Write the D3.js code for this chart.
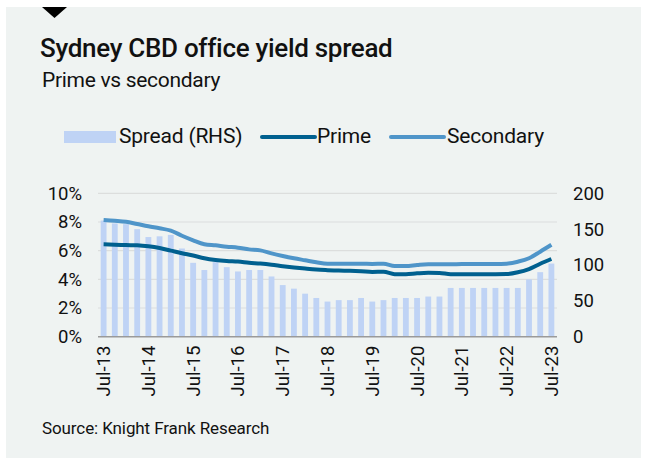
<!DOCTYPE html>
<html>
<head>
<meta charset="utf-8">
<script src="https://cdn.jsdelivr.net/npm/d3@7"></script>
<style>
  html, body { margin: 0; padding: 0; background: #ffffff; }
  svg { display: block; }
  text { font-family: Roboto, "Liberation Sans", Arial, sans-serif; fill: #111; }
</style>
</head>
<body>
<svg id="chart" width="646" height="463"></svg>
<script>
// Quarterly observations, Jul-13 to Jul-23
const quarters = [
  "Jul-13","Oct-13","Jan-14","Apr-14","Jul-14","Oct-14","Jan-15","Apr-15",
  "Jul-15","Oct-15","Jan-16","Apr-16","Jul-16","Oct-16","Jan-17","Apr-17",
  "Jul-17","Oct-17","Jan-18","Apr-18","Jul-18","Oct-18","Jan-19","Apr-19",
  "Jul-19","Oct-19","Jan-20","Apr-20","Jul-20","Oct-20","Jan-21","Apr-21",
  "Jul-21","Oct-21","Jan-22","Apr-22","Jul-22","Oct-22","Jan-23","Apr-23",
  "Jul-23"
];

// Prime yield (%)
const prime = [
  6.44, 6.42, 6.39, 6.37, 6.30, 6.18, 6.00, 5.82,
  5.66, 5.47, 5.35, 5.28, 5.24, 5.16, 5.10, 5.02,
  4.92, 4.83, 4.75, 4.68, 4.64, 4.61, 4.60, 4.57,
  4.52, 4.53, 4.36, 4.36, 4.42, 4.46, 4.45, 4.36,
  4.36, 4.36, 4.36, 4.36, 4.37, 4.49, 4.72, 5.09,
  5.42
];

// Secondary yield (%)
const secondary = [
  8.14, 8.09, 8.02, 7.86, 7.70, 7.56, 7.40, 7.04,
  6.72, 6.45, 6.37, 6.28, 6.21, 6.09, 6.02, 5.81,
  5.63, 5.47, 5.33, 5.19, 5.09, 5.09, 5.09, 5.09,
  5.07, 5.09, 4.93, 4.93, 5.00, 5.05, 5.05, 5.05,
  5.07, 5.07, 5.07, 5.07, 5.09, 5.23, 5.47, 5.93,
  6.41
];

// Prime–secondary spread (bps, right-hand axis)
const spread = [
  162, 158, 157, 150, 139, 140, 142, 123,
  103, 93, 104, 97, 91, 93, 93, 84,
  72, 67, 60, 54, 49, 51, 51, 54,
  49, 51, 54, 54, 54, 56, 56, 68,
  68, 68, 68, 68, 68, 68, 80, 90,
  102
];

const leftTicks = [0, 2, 4, 6, 8, 10];
const rightTicks = [0, 50, 100, 150, 200];
const xTickLabels = ["Jul-13","Jul-14","Jul-15","Jul-16","Jul-17","Jul-18",
                     "Jul-19","Jul-20","Jul-21","Jul-22","Jul-23"];

const colors = {
  bg: "#eff3f2",
  bar: "#bfd3f5",
  prime: "#00608f",
  secondary: "#4f95c9",
  grid: "#dcdedd",
  axis: "#9a9a9a"
};

const FONT = "Roboto, 'Liberation Sans', Arial, sans-serif";
const svg = d3.select("#chart");

// Panel background and marker
svg.append("rect")
  .attr("x", 6).attr("y", 7).attr("width", 635).attr("height", 451)
  .attr("fill", colors.bg);
svg.append("path")
  .attr("d", "M42,7 L67,7 L54.5,18 Z")
  .attr("fill", "#000");

// Titles
svg.append("text")
  .attr("x", 40).attr("y", 57)
  .style("font-size", "26px").style("font-weight", "500")
  .style("letter-spacing", "-0.3px")
  .text("Sydney CBD office yield spread");
svg.append("text")
  .attr("x", 42).attr("y", 87)
  .style("font-size", "21px")
  .style("letter-spacing", "-0.3px")
  .text("Prime vs secondary");

// Plot area
const plot = { left: 98, right: 557, top: 193.3, bottom: 336.7 };

const x = d3.scaleBand()
  .domain(quarters)
  .range([plot.left, plot.right])
  .paddingInner(0.48)
  .paddingOuter(0.24);

const yLeft = d3.scaleLinear().domain([0, 10]).range([plot.bottom, plot.top]);
const yRight = d3.scaleLinear().domain([0, 200]).range([plot.bottom, plot.top]);

// Gridlines
svg.append("g")
  .selectAll("line")
  .data(leftTicks.filter(d => d > 0))
  .join("line")
  .attr("x1", plot.left).attr("x2", plot.right)
  .attr("y1", d => yLeft(d)).attr("y2", d => yLeft(d))
  .attr("stroke", colors.grid).attr("stroke-width", 1.2);

// Spread bars
svg.append("g")
  .selectAll("rect")
  .data(spread)
  .join("rect")
  .attr("x", (d, i) => x(quarters[i]))
  .attr("width", x.bandwidth())
  .attr("y", d => yRight(d))
  .attr("height", d => yRight(0) - yRight(d))
  .attr("fill", colors.bar);

// Baseline
svg.append("line")
  .attr("x1", plot.left).attr("x2", plot.right)
  .attr("y1", plot.bottom).attr("y2", plot.bottom)
  .attr("stroke", colors.axis).attr("stroke-width", 1.5);

// Yield lines
const cx = i => x(quarters[i]) + x.bandwidth() / 2;
const lineL = d3.line()
  .x((d, i) => cx(i))
  .y(d => yLeft(d))
  .curve(d3.curveMonotoneX);

svg.append("path")
  .datum(secondary)
  .attr("d", lineL)
  .attr("fill", "none")
  .attr("stroke", colors.secondary)
  .attr("stroke-width", 4)
  .attr("stroke-linejoin", "round");

svg.append("path")
  .datum(prime)
  .attr("d", lineL)
  .attr("fill", "none")
  .attr("stroke", colors.prime)
  .attr("stroke-width", 4)
  .attr("stroke-linejoin", "round");

// Left axis labels
const leftAxis = d3.axisLeft(yLeft)
  .tickValues(leftTicks)
  .tickFormat(d => d + "%")
  .tickSize(0)
  .tickPadding(0);
const gL = svg.append("g")
  .attr("transform", `translate(82,0)`)
  .call(leftAxis);
gL.select(".domain").remove();
gL.selectAll("text")
  .style("font-size", "18.5px")
  .style("font-family", FONT)
  .attr("fill", "#111");

// Right axis labels
const rightAxis = d3.axisRight(yRight)
  .tickValues(rightTicks)
  .tickSize(0)
  .tickPadding(0);
const gR = svg.append("g")
  .attr("transform", `translate(573,0)`)
  .call(rightAxis);
gR.select(".domain").remove();
gR.selectAll("text")
  .style("font-size", "18.5px")
  .style("font-family", FONT)
  .attr("fill", "#111");

// Bottom axis labels (rotated)
const bottomAxis = d3.axisBottom(x)
  .tickValues(xTickLabels)
  .tickSize(0)
  .tickPadding(0);
const gB = svg.append("g")
  .attr("transform", `translate(0,${plot.bottom})`)
  .call(bottomAxis);
gB.select(".domain").remove();
gB.selectAll("text")
  .attr("transform", "rotate(-90)")
  .attr("x", -9)
  .attr("y", 0)
  .attr("dy", "0.35em")
  .style("text-anchor", "end")
  .style("font-size", "18.5px")
  .style("font-family", FONT)
  .attr("fill", "#111");

// Legend
const legend = svg.append("g").style("font-size", "21px");
legend.append("rect")
  .attr("x", 64).attr("y", 131).attr("width", 52).attr("height", 12)
  .attr("fill", colors.bar);
legend.append("text")
  .attr("x", 119).attr("y", 143)
  .style("letter-spacing", "-0.2px")
  .text("Spread (RHS)");
legend.append("line")
  .attr("x1", 262).attr("x2", 315).attr("y1", 137).attr("y2", 137)
  .attr("stroke", colors.prime).attr("stroke-width", 4).attr("stroke-linecap", "round");
legend.append("text")
  .attr("x", 317).attr("y", 143)
  .style("letter-spacing", "-0.2px")
  .text("Prime");
legend.append("line")
  .attr("x1", 391).attr("x2", 444).attr("y1", 137).attr("y2", 137)
  .attr("stroke", colors.secondary).attr("stroke-width", 4).attr("stroke-linecap", "round");
legend.append("text")
  .attr("x", 447).attr("y", 143)
  .style("letter-spacing", "-0.2px")
  .text("Secondary");

// Source note
svg.append("text")
  .attr("x", 42).attr("y", 434)
  .style("font-size", "17px")
  .style("letter-spacing", "-0.1px")
  .text("Source: Knight Frank Research");
</script>
</body>
</html>
